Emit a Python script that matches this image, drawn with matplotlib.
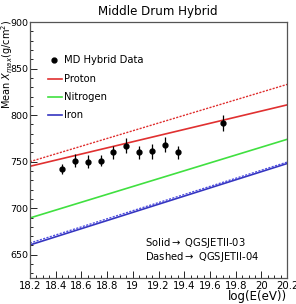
import matplotlib
matplotlib.use("Agg")
import matplotlib.pyplot as plt
import numpy as np
from matplotlib.ticker import MultipleLocator

# Data
log_e = [18.45, 18.55, 18.65, 18.75, 18.85, 18.95, 19.05, 19.15, 19.25, 19.35, 19.7]
xmax = [742, 751, 750, 751, 760, 767, 760, 761, 768, 760, 791.5]
xmax_err = [5, 7, 7, 6, 7, 8, 7, 8, 8, 7, 9]

line_x = [18.2, 20.2]
proton_03 = [745, 811]
proton_04 = [750, 833]
nitrogen_03 = [689.5, 774]
iron_03 = [660.5, 748]
iron_04 = [662.5, 749.5]

x_ticks = [18.2, 18.4, 18.6, 18.8, 19.0, 19.2, 19.4, 19.6, 19.8, 20.0, 20.2]
x_tick_labels = ['18.2', '18.4', '18.6', '18.8', '19', '19.2', '19.4', '19.6', '19.8', '20', '20.2']

plt.rcParams['font.family'] = ['DejaVu Sans']
fig = plt.figure(figsize=(2.96, 3.04), dpi=100)
ax = fig.add_axes([0.101, 0.0855, 0.869, 0.842])

RED, GREEN, BLUE = '#e03030', '#40e040', '#3535c0'
ax.plot(line_x, proton_03, color=RED, lw=1.2)
ax.plot(line_x, proton_04, color=RED, lw=1.0, ls=(0, (1.5, 1)))
ax.plot(line_x, nitrogen_03, color=GREEN, lw=1.2)
ax.plot(line_x, iron_03, color=BLUE, lw=1.2)
ax.plot(line_x, iron_04, color='#5050e0', lw=1.0, ls=(0, (1.5, 1)))
ax.errorbar(log_e, xmax, yerr=xmax_err, fmt='o', color='black', ms=3.5,
            elinewidth=0.9, capsize=0)

ax.set_xlim(18.2, 20.2)
ax.set_ylim(625, 900)
ax.set_xticks(x_ticks)
ax.set_xticklabels(x_tick_labels)
ax.xaxis.set_minor_locator(MultipleLocator(0.05))
ax.yaxis.set_major_locator(MultipleLocator(50))
ax.yaxis.set_minor_locator(MultipleLocator(10))
ax.tick_params(which='both', direction='in', top=False, right=False, labelsize=7.3, pad=2)
ax.tick_params(axis='y', pad=1, labelsize=6.8)
ax.tick_params(which='major', length=5, width=0.6)
ax.tick_params(which='minor', length=2.5, width=0.6)
for s in ax.spines.values():
    s.set_linewidth(0.9)
    s.set_color('#555555')

fig.text(0.532, 0.963, 'Middle Drum Hybrid', ha='center', va='center', fontsize=8.6)
fig.text(0.025, 0.935, r'Mean $X_{max}$(g/cm$^{2}$)', rotation=90, ha='center', va='top', fontsize=7.0)
fig.text(0.97, 0.004, 'log(E(eV))', ha='right', va='bottom', fontsize=8.5)

# legend
lx0, lx1, ltx = 18.34, 18.45, 18.465
fs = 7.2
ax.plot([18.385], [859], 'o', color='black', ms=3.5)
ax.text(ltx, 859, 'MD Hybrid Data', fontsize=fs, va='center')
ax.plot([lx0, lx1], [839, 839], color=RED, lw=1.2)
ax.text(ltx, 839, 'Proton', fontsize=fs, va='center')
ax.plot([lx0, lx1], [819.5, 819.5], color=GREEN, lw=1.2)
ax.text(ltx, 819.5, 'Nitrogen', fontsize=fs, va='center')
ax.plot([lx0, lx1], [800, 800], color=BLUE, lw=1.2)
ax.text(ltx, 800, 'Iron', fontsize=fs, va='center')

ax.text(19.095, 662.5, r'Solid$\rightarrow$ QGSJETII-03', fontsize=fs, va='center')
ax.text(19.095, 647.5, r'Dashed$\rightarrow$ QGSJETII-04', fontsize=fs, va='center')

fig.savefig('out.png', dpi=100)
